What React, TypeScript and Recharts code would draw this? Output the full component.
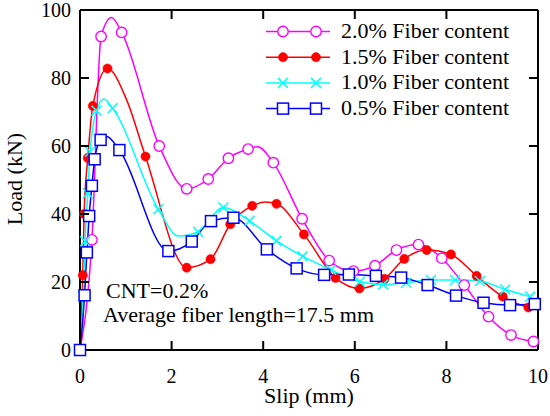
import React from 'react';
import { ComposedChart, Line, Scatter, XAxis, YAxis } from 'recharts';

// ---------- data ----------
const slipTicks = [0, 2, 4, 6, 8, 10];
const loadTicks = [0, 20, 40, 60, 80, 100];

// 2.0% fiber content (marker points)
const f20Slip = [0, 0.26, 0.46, 0.91, 1.73, 2.33, 2.80, 3.24, 3.67, 4.22, 4.85, 5.44, 5.97, 6.44, 6.91, 7.39, 7.90, 8.39, 8.92, 9.41, 9.90];
const f20Load = [0, 32.4, 92.2, 93.4, 60.0, 47.4, 50.3, 56.4, 59.1, 55.1, 38.6, 26.3, 23.2, 24.8, 29.4, 31.0, 27.0, 19.1, 9.8, 4.4, 2.5];
// extra curve points (peaks between markers)
const f20ExtraSlip = [0.69, 3.88];
const f20ExtraLoad = [97.8, 59.8];

// 1.5% fiber content
const f15Slip = [0, 0.06, 0.09, 0.17, 0.28, 0.60, 1.43, 2.33, 2.85, 3.28, 3.76, 4.29, 4.89, 5.58, 6.10, 6.65, 7.08, 7.57, 8.10, 8.66, 9.23, 9.79];
const f15Load = [0, 22.0, 40.0, 56.5, 71.8, 82.8, 56.9, 24.2, 26.7, 37.0, 42.4, 43.0, 34.0, 21.2, 18.1, 20.9, 26.8, 29.4, 28.1, 21.8, 15.7, 12.5];
const f15ExtraSlip = [1.02, 4.05];
const f15ExtraLoad = [73.5, 43.5];

// 1.0% fiber content
const f10Slip = [0, 0.07, 0.11, 0.17, 0.22, 0.36, 0.71, 1.71, 2.58, 3.13, 3.70, 4.29, 4.86, 5.48, 6.11, 6.62, 7.12, 7.66, 8.19, 8.73, 9.28, 9.83];
const f10Load = [0, 15.7, 32.0, 46.1, 58.3, 70.4, 71.1, 41.4, 34.8, 41.9, 38.0, 32.1, 27.6, 23.6, 20.1, 19.3, 19.8, 20.6, 20.6, 20.3, 17.8, 15.7];
const f10ExtraSlip = [0.52, 2.15];
const f10ExtraLoad = [73.8, 33.5];

// 0.5% fiber content
const f05Slip = [0, 0.10, 0.15, 0.20, 0.26, 0.32, 0.45, 0.86, 1.93, 2.44, 2.86, 3.35, 4.08, 4.73, 5.33, 5.87, 6.46, 7.01, 7.59, 8.21, 8.81, 9.39, 9.93];
const f05Load = [0, 16.1, 28.7, 39.4, 48.3, 56.1, 61.8, 58.8, 29.1, 31.9, 37.9, 38.9, 29.6, 24.0, 22.1, 22.2, 21.8, 21.3, 19.1, 16.0, 13.9, 13.2, 13.5];
const f05ExtraSlip = [0.58];
const f05ExtraLoad = [62.8];

const seriesNames = ['2.0% Fiber content', '1.5% Fiber content', '1.0% Fiber content', '0.5% Fiber content'];

const annotation1 = 'CNT=0.2%';
const annotation2 = 'Average fiber length=17.5 mm';

// ---------- helpers ----------
const zip = (xs: number[], ys: number[]) => xs.map((x, i) => ({ x, y: ys[i] }));
const curve = (xs: number[], ys: number[], ex: number[], ey: number[]) =>
  [...zip(xs, ys), ...zip(ex, ey)].sort((a, b) => a.x - b.x);

const FONT = 'Liberation Serif';

type Kind = 'circle' | 'dot' | 'cross' | 'square';

const Marker = ({ cx, cy, kind, color }: { cx: number; cy: number; kind: Kind; color: string }) => {
  if (cx == null || cy == null || isNaN(cx) || isNaN(cy)) return null;
  switch (kind) {
    case 'circle':
      return <circle cx={cx} cy={cy} r={5.2} fill="#fff" stroke={color} strokeWidth={1.4} />;
    case 'dot':
      return <circle cx={cx} cy={cy} r={4.6} fill={color} stroke={color} strokeWidth={0.5} />;
    case 'cross':
      return (
        <g stroke={color} strokeWidth={1.5}>
          <line x1={cx - 5} y1={cy - 5} x2={cx + 5} y2={cy + 5} />
          <line x1={cx - 5} y1={cy + 5} x2={cx + 5} y2={cy - 5} />
        </g>
      );
    default:
      return <rect x={cx - 5.5} y={cy - 5.5} width={11} height={11} fill="#fff" stroke={color} strokeWidth={1.5} />;
  }
};

const series = [
  { name: seriesNames[0], color: '#ff00ff', kind: 'circle' as Kind, markers: zip(f20Slip, f20Load), line: curve(f20Slip, f20Load, f20ExtraSlip, f20ExtraLoad) },
  { name: seriesNames[1], color: '#ff0000', kind: 'dot' as Kind, markers: zip(f15Slip, f15Load), line: curve(f15Slip, f15Load, f15ExtraSlip, f15ExtraLoad) },
  { name: seriesNames[2], color: '#00ffff', kind: 'cross' as Kind, markers: zip(f10Slip, f10Load), line: curve(f10Slip, f10Load, f10ExtraSlip, f10ExtraLoad) },
  { name: seriesNames[3], color: '#0000ff', kind: 'square' as Kind, markers: zip(f05Slip, f05Load), line: curve(f05Slip, f05Load, f05ExtraSlip, f05ExtraLoad) },
];

const textStyle = { fontFamily: FONT };

const BottomTick = (p: any) => (
  <text x={p.x} y={p.y} textAnchor="middle" style={textStyle} fontSize={20} fill="#000">
    {p.payload.value}
  </text>
);
const LeftTick = (p: any) => (
  <text x={p.x} y={p.y + 7} textAnchor="end" style={textStyle} fontSize={20} fill="#000">
    {p.payload.value}
  </text>
);
const NoLabel = () => <g />;

const axisLine = { stroke: '#000', strokeWidth: 2 };

// layout of the plot frame (chart margins + axis sizes)
const W = 550;
const H = 416;
const LEFT_AXIS_W = 80;
const RIGHT_AXIS_W = 12;
const TOP_AXIS_H = 10;
const BOTTOM_AXIS_H = 30;
const BOTTOM_MARGIN = 36;
const PL = LEFT_AXIS_W;
const PR = W - RIGHT_AXIS_W;
const PT = TOP_AXIS_H;
const PB = H - BOTTOM_MARGIN - BOTTOM_AXIS_H;
const TICK = 9;
const sx = (v: number) => PL + ((v - slipTicks[0]) / (slipTicks[slipTicks.length - 1] - slipTicks[0])) * (PR - PL);
const sy = (v: number) => PB - ((v - loadTicks[0]) / (loadTicks[loadTicks.length - 1] - loadTicks[0])) * (PB - PT);

export default function App() {
  return (
    <div style={{ position: 'absolute', left: 0, top: 0, width: W, height: H, background: '#fff' }}>
      <ComposedChart width={W} height={H} margin={{ top: 0, right: 0, bottom: BOTTOM_MARGIN, left: 0 }}>
        <XAxis xAxisId="b" dataKey="x" type="number" domain={[0, 10]} ticks={slipTicks} orientation="bottom"
          height={BOTTOM_AXIS_H} axisLine={axisLine} tickLine={false} tickSize={0} tickMargin={33}
          tick={BottomTick} />
        <XAxis xAxisId="t" dataKey="x" type="number" domain={[0, 10]} ticks={slipTicks} orientation="top"
          height={TOP_AXIS_H} axisLine={axisLine} tickLine={false} tick={NoLabel} />
        <YAxis yAxisId="l" dataKey="y" type="number" domain={[0, 100]} ticks={loadTicks} orientation="left"
          width={LEFT_AXIS_W} axisLine={axisLine} tickLine={false} tickSize={0} tickMargin={9}
          tick={LeftTick} />
        <YAxis yAxisId="r" dataKey="y" type="number" domain={[0, 100]} ticks={loadTicks} orientation="right"
          width={RIGHT_AXIS_W} axisLine={axisLine} tickLine={false} tick={NoLabel} />
        {series.flatMap((s, i) => [
          <Line key={'l' + i} xAxisId="b" yAxisId="l" data={s.line} dataKey="y" type="monotone"
            stroke={s.color} strokeWidth={1.5} dot={false} activeDot={false} isAnimationActive={false} />,
          <Scatter key={'s' + i} xAxisId="b" yAxisId="l" data={s.markers} dataKey="y"
            isAnimationActive={false}
            shape={(p: any) => <Marker cx={p.cx} cy={p.cy} kind={s.kind} color={s.color} />} />,
        ])}
      </ComposedChart>
      <svg width={W} height={H} style={{ position: 'absolute', left: 0, top: 0, pointerEvents: 'none' }}>
        <g stroke="#000" strokeWidth={2}>
          {slipTicks.slice(1, -1).map((t) => (
            <g key={'x' + t}>
              <line x1={sx(t)} y1={PB} x2={sx(t)} y2={PB - TICK} />
              <line x1={sx(t)} y1={PT} x2={sx(t)} y2={PT + TICK} />
            </g>
          ))}
          {loadTicks.slice(1, -1).map((t) => (
            <g key={'y' + t}>
              <line x1={PL} y1={sy(t)} x2={PL + TICK} y2={sy(t)} />
              <line x1={PR} y1={sy(t)} x2={PR - TICK} y2={sy(t)} />
            </g>
          ))}
        </g>
        {series.map((s, i) => {
          const base = 38 + i * 25.7;
          const ly = base - 6.5;
          return (
            <g key={i}>
              <line x1={266} y1={ly} x2={330} y2={ly} stroke={s.color} strokeWidth={1.5} />
              <Marker cx={283} cy={ly} kind={s.kind} color={s.color} />
              <Marker cx={316} cy={ly} kind={s.kind} color={s.color} />
              <text x={341} y={base} style={textStyle} fontSize={22} fill="#000">{s.name}</text>
            </g>
          );
        })}
        <text x={106} y={298} style={textStyle} fontSize={22} fill="#000">{annotation1}</text>
        <text x={103} y={322} style={textStyle} fontSize={22} fill="#000">{annotation2}</text>
        <text x={309} y={403} textAnchor="middle" style={textStyle} fontSize={22} fill="#000">Slip (mm)</text>
        <text x={21.5} y={179} textAnchor="middle" style={textStyle} fontSize={22} fill="#000"
          transform="rotate(-90 21.5 179)">Load (kN)</text>
      </svg>
    </div>
  );
}
